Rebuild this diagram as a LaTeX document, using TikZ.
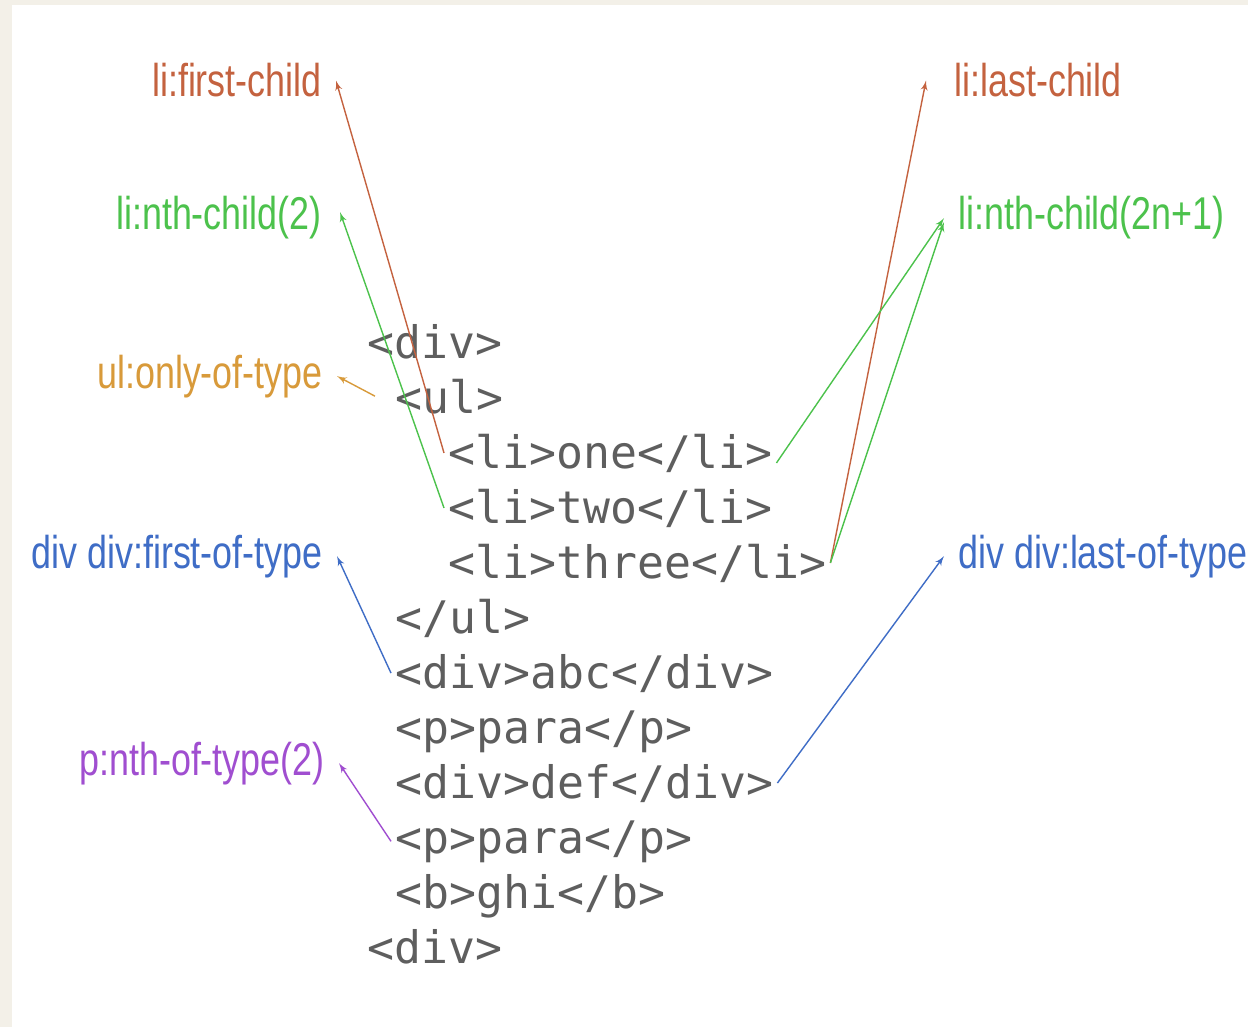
\documentclass[tikz,border=0pt]{standalone}
\usepackage{fontspec}
\usepackage{xcolor}
\usepackage{tikz}
\usetikzlibrary{shapes,arrows}
\newfontfamily\codefont{DejaVu Sans Mono}
\newfontfamily\selfont[FakeStretch=0.78]{Liberation Sans}
\definecolor{pagebg}{HTML}{F3F0E8}
\definecolor{codegray}{HTML}{5E5E5E}
\definecolor{selred}{HTML}{C4623F}
\definecolor{selgreen}{HTML}{4CC24C}
\definecolor{selorange}{HTML}{D89A3A}
\definecolor{selblue}{HTML}{3F6DC6}
\definecolor{selpurple}{HTML}{A04ED0}
\tikzstyle{code} = [anchor=base west, inner sep=2pt, text=codegray, font=\codefont\fontsize{22.4}{27}\selectfont]
\tikzstyle{sel} = [inner xsep=7pt, inner ysep=0pt, font=\selfont\fontsize{23}{28}\selectfont]
\tikzstyle{link} = [draw, line width=0.7pt, -latex']

\begin{document}
\begin{tikzpicture}[x=0.5pt, y=-0.5pt]
\useasboundingbox (0,0) rectangle (1248,1027);
\fill [pagebg] (0,0) rectangle (1248,1027);
\fill [white] (12,5) rectangle (1248,1027);

\node [code] (c1) at (363,358) {<div>};
\node [code] (c2) at (391,413) {<ul>};
\node [code] (c3) at (444,468) {<li>one</li>};
\node [code] (c4) at (444,523) {<li>two</li>};
\node [code] (c5) at (444,578) {<li>three</li>};
\node [code] (c6) at (391,633) {</ul>};
\node [code] (c7) at (391,688) {<div>abc</div>};
\node [code] (c8) at (391,743) {<p>para</p>};
\node [code] (c9) at (391,798) {<div>def</div>};
\node [code] (c10) at (391,853) {<p>para</p>};
\node [code] (c11) at (391,908) {<b>ghi</b>};
\node [code] (c12) at (363,963) {<div>};

\node [sel, anchor=base east, text=selred] (s1) at (336,97) {li:first-child};
\node [sel, anchor=base east, text=selgreen] (s2) at (336,230) {li:nth-child(2)};
\node [sel, anchor=base east, text=selorange] (s3) at (337,388) {ul:only-of-type};
\node [sel, anchor=base east, text=selblue] (s4) at (337,568) {div div:first-of-type};
\node [sel, anchor=base east, text=selpurple] (s5) at (339,775) {p:nth-of-type(2)};

\node [sel, anchor=base west, text=selred] (s6) at (940,97) {li:last-child};
\node [sel, anchor=base west, text=selgreen] (s7) at (944,230) {li:nth-child(2n+1)};
\node [sel, anchor=base west, text=selblue] (s8) at (944,568) {div div:last-of-type};

\path [link, selred] (c3.west) -- (s1.east);
\path [link, selgreen] (c4.west) -- ([xshift=2pt, yshift=3pt]s2.east);
\path [link, selorange] ([xshift=-8pt]c2.west) -- (s3.east);
\path [link, selblue] (c7.west) -- (s4.east);
\path [link, selpurple] (c10.west) -- (s5.east);

\path [link, selred] (c5.east) -- ([xshift=-7pt]s6.west);
\path [link, selgreen] ([yshift=-5pt]c3.east) -- (s7.west);
\path [link, selgreen] (c5.east) -- ([yshift=-2pt]s7.west);
\path [link, selblue] (c9.east) -- (s8.west);
\end{tikzpicture}
\end{document}
